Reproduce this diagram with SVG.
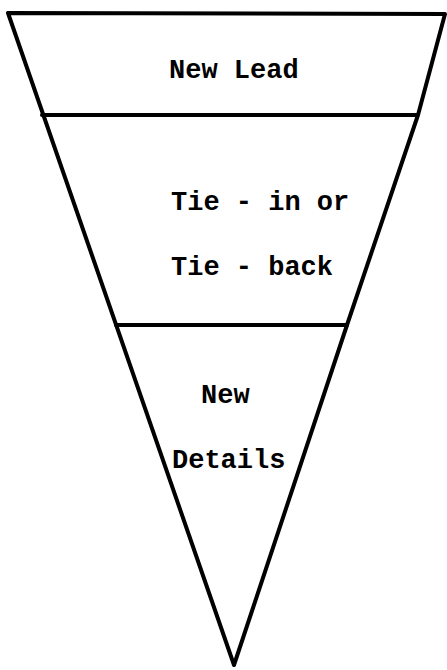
<svg xmlns="http://www.w3.org/2000/svg" width="447" height="670" viewBox="0 0 447 670">
<style>
.ln{fill:none;stroke:#000;stroke-width:4;stroke-linecap:round;stroke-linejoin:round}
.t{font-family:"Liberation Mono","Courier New",monospace;font-size:27px;font-weight:bold;fill:#000}
</style>
<rect width="447" height="670" fill="#fff"/>
<g id="outline">
<polyline class="ln" points="234,665 8,13 445,14 418,115 347,325 234,665"/>
</g>
<g id="connectors">
<line class="ln" x1="42" y1="115" x2="417" y2="115"/>
<line class="ln" x1="116" y1="325" x2="347" y2="325" stroke-width="4.5"/>
</g>
<g id="new-lead"><text class="t" x="169" y="78">New Lead</text></g>
<g id="tie-in"><text class="t" x="171" y="210">Tie - in or</text><text class="t" x="171" y="275">Tie - back</text></g>
<g id="new-details"><text class="t" x="201" y="403">New</text><text class="t" x="172" y="468">Details</text></g>
</svg>
